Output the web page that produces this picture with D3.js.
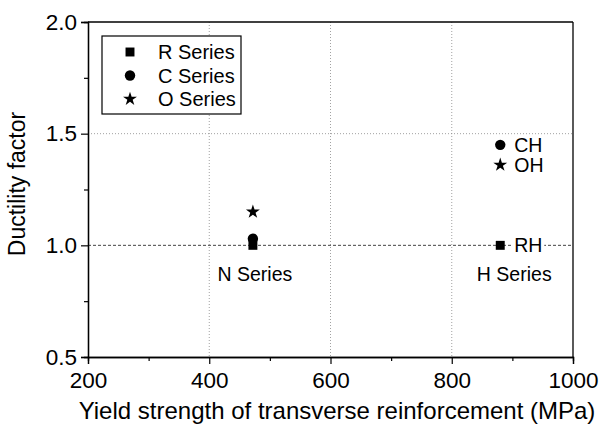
<!DOCTYPE html>
<html>
<head>
<meta charset="utf-8">
<script src="https://cdn.jsdelivr.net/npm/d3@7"></script>
<style>
  body { margin: 0; background: #fff; }
  text { font-family: "Liberation Sans", Arial, sans-serif; fill: #000; }
</style>
</head>
<body>
<div id="chart"></div>
<script>
// data
const seriesNames = ["R Series", "C Series", "O Series"];
const groupNames = ["N Series", "H Series"];
const xValues = [472, 880];        // yield strength (MPa)
const rValues = [1.00, 1.00];
const cValues = [1.03, 1.45];
const oValues = [1.15, 1.36];
const pointLabels = { R: ["", "RH"], C: ["", "CH"], O: ["", "OH"] };
const xTicks = [200, 400, 600, 800, 1000];
const yTicks = [0.5, 1.0, 1.5, 2.0];

const W = 600, H = 426;
const margin = { top: 22, right: 27, bottom: 69, left: 88 };
const width = W - margin.left - margin.right;
const height = H - margin.top - margin.bottom;

const svg = d3.select("#chart").append("svg")
    .attr("width", W)
    .attr("height", H);

const g = svg.append("g")
    .attr("transform", `translate(${margin.left},${margin.top})`);

const x = d3.scaleLinear().domain([200, 1000]).range([0, width]);
const y = d3.scaleLinear().domain([0.5, 2.0]).range([height, 0]);

// grid lines (dotted)
g.selectAll(".vgrid")
    .data([400, 600, 800])
    .enter().append("line")
    .attr("x1", d => x(d)).attr("x2", d => x(d))
    .attr("y1", 0).attr("y2", height)
    .attr("stroke", "#8a8a8a")
    .attr("stroke-width", 0.8)
    .attr("stroke-dasharray", "1,2");

g.append("line")
    .attr("x1", 0).attr("x2", width)
    .attr("y1", y(1.5)).attr("y2", y(1.5))
    .attr("stroke", "#8a8a8a")
    .attr("stroke-width", 0.8)
    .attr("stroke-dasharray", "1,2");

// reference line at 1.0 (dashed)
g.append("line")
    .attr("x1", 0).attr("x2", width)
    .attr("y1", y(1.0)).attr("y2", y(1.0))
    .attr("stroke", "#444")
    .attr("stroke-width", 1)
    .attr("stroke-dasharray", "3,2");

// axes
const xAxis = g.append("g")
    .attr("transform", `translate(0,${height})`)
    .call(d3.axisBottom(x).tickValues(xTicks).tickSize(7).tickPadding(8).tickFormat(d3.format("d")));
const xMinor = g.append("g")
    .attr("transform", `translate(0,${height})`)
    .call(d3.axisBottom(x).tickValues([300, 500, 700, 900]).tickSize(4).tickFormat(""));

const yAxis = g.append("g")
    .call(d3.axisLeft(y).tickValues(yTicks).tickSize(7).tickPadding(4).tickFormat(d3.format(".1f")));
const yMinor = g.append("g")
    .call(d3.axisLeft(y).tickValues([0.75, 1.25, 1.75]).tickSize(4).tickFormat(""));

[xAxis, xMinor, yAxis, yMinor].forEach(a => {
    a.select(".domain").attr("stroke", "#000").attr("stroke-width", 1.3);
    a.selectAll(".tick line").attr("stroke", "#000").attr("stroke-width", 1.2);
    a.selectAll("text").style("font-size", "22.5px").style("font-family", "Liberation Sans, Arial, sans-serif");
});

// top and right frame
g.append("line").attr("x1", 0).attr("x2", width).attr("y1", 0).attr("y2", 0)
    .attr("stroke", "#000").attr("stroke-width", 1.3);
g.append("line").attr("x1", width).attr("x2", width).attr("y1", 0).attr("y2", height)
    .attr("stroke", "#000").attr("stroke-width", 1.3);

// axis titles
svg.append("text")
    .attr("x", 337)
    .attr("y", 419)
    .attr("text-anchor", "middle")
    .style("font-size", "24px")
    .text("Yield strength of transverse reinforcement (MPa)");

svg.append("text")
    .attr("transform", `translate(25,184) rotate(-90)`)
    .attr("text-anchor", "middle")
    .style("font-size", "23px")
    .text("Ductility factor");

// markers
const symSquare = d3.symbol().type(d3.symbolSquare).size(80);
const symCircle = d3.symbol().type(d3.symbolCircle).size(85);
const symStar = d3.symbol().type(d3.symbolStar).size(60);

const series = [
    { key: "R", vals: rValues, sym: symSquare },
    { key: "C", vals: cValues, sym: symCircle },
    { key: "O", vals: oValues, sym: symStar }
];

series.forEach(s => {
    const pts = xValues.map((xv, i) => ({ x: xv, y: s.vals[i], label: pointLabels[s.key][i] }));

    g.selectAll(".pt-" + s.key)
        .data(pts)
        .enter().append("path")
        .attr("d", s.sym())
        .attr("transform", d => `translate(${x(d.x)},${y(d.y)})`)
        .attr("fill", "#000");

    const labs = g.selectAll(".lab-" + s.key)
        .data(pts.filter(d => d.label))
        .enter().append("g");

    // white patch so the dashed line breaks behind the label
    labs.append("rect")
        .attr("x", d => x(d.x) + 12)
        .attr("y", d => y(d.y) - 8)
        .attr("width", 32)
        .attr("height", 16)
        .attr("fill", "#fff");

    labs.append("text")
        .attr("x", d => x(d.x) + 14)
        .attr("y", d => y(d.y) + 7)
        .style("font-size", "19.5px")
        .text(d => d.label);
});

// group labels
g.selectAll(".group")
    .data(groupNames)
    .enter().append("text")
    .attr("x", (d, i) => x(xValues[i]) + (i === 0 ? 2 : 14))
    .attr("y", y(1.0) + 36)
    .attr("text-anchor", "middle")
    .style("font-size", "19.5px")
    .text(d => d);

// legend
const legend = svg.append("g").attr("transform", "translate(102,36)");
legend.append("rect")
    .attr("width", 139).attr("height", 78)
    .attr("fill", "#fff")
    .attr("stroke", "#000")
    .attr("stroke-width", 1.2);

const legSyms = [symSquare, symCircle, symStar];
seriesNames.forEach((name, i) => {
    const row = legend.append("g").attr("transform", `translate(0,${16 + i * 23.5})`);
    row.append("path")
        .attr("d", legSyms[i]())
        .attr("transform", "translate(28,0)")
        .attr("fill", "#000");
    row.append("text")
        .attr("x", 56)
        .attr("y", 7)
        .style("font-size", "20px")
        .text(name);
});
</script>
</body>
</html>
